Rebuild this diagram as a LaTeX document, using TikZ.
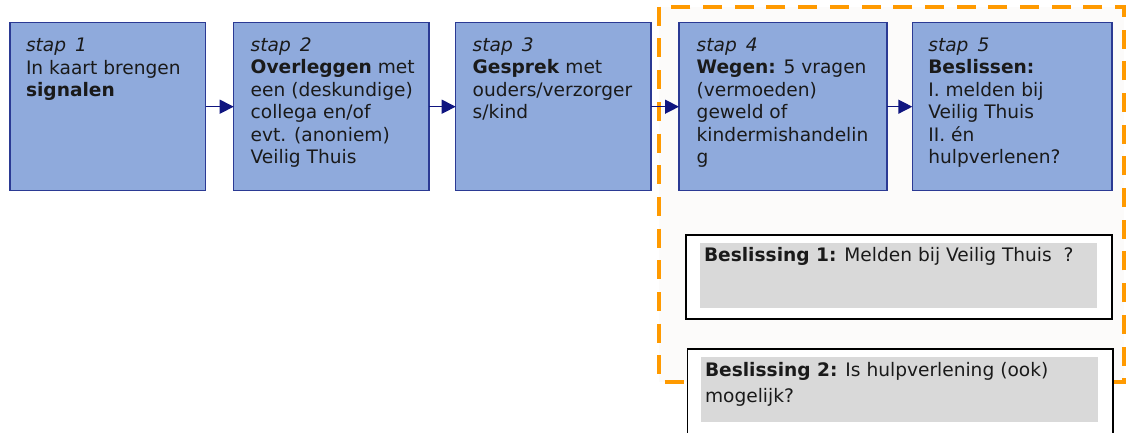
\documentclass[tikz,border=0pt]{standalone}
\usepackage{fontspec}
\setmainfont{DejaVu Sans}
\usetikzlibrary{arrows.meta,calc}
\definecolor{boxfill}{HTML}{8FAADC}
\definecolor{boxline}{HTML}{2B3A94}
\definecolor{arrowc}{HTML}{0F1580}
\definecolor{orangec}{HTML}{FF9A00}
\definecolor{zonefill}{HTML}{FCFBFA}
\definecolor{grayfill}{HTML}{D9D9D9}
\definecolor{txtc}{HTML}{1A1A1A}
\tikzset{
  stepbox/.style={draw=boxline, line width=1.3pt, fill=boxfill, rectangle, inner sep=0pt, outer sep=0pt, anchor=north west, minimum height=168pt},
  steptext/.style={anchor=base west, inner sep=0pt, outer sep=0pt, text=txtc},
  arr/.style={draw=arrowc, line width=1.4pt, -{Triangle[length=14pt,width=14pt]}},
  zone/.style={draw=orangec, line width=4pt, fill=zonefill, dash pattern=on 19pt off 12.7pt},
  decbox/.style={draw=black, line width=1.5pt, fill=white, rectangle, inner sep=0pt, outer sep=0pt, anchor=north west},
  decinner/.style={fill=grayfill, draw=none, rectangle, inner sep=0pt, outer sep=0pt, anchor=north west},
}
\newcommand{\blk}[2]{\parbox[t]{600pt}{\raggedright\fontsize{18.6}{#1}\selectfont #2}}
\begin{document}
\begin{tikzpicture}[x=1pt,y=-1pt]
\useasboundingbox (0,0) rectangle (1130,432);
\fill[white] (0,0) rectangle (1130,432);
% orange dashed zone
\path[zone] (659.3,6.7) rectangle (1124,381.7);
% step boxes
\node[stepbox, minimum width=195.7pt] (s1) at (10,22.7) {};
\node[stepbox, minimum width=195.3pt] (s2) at (233.7,22.7) {};
\node[stepbox, minimum width=195.3pt] (s3) at (455.7,22.7) {};
\node[stepbox, minimum width=208pt] (s4) at (679,22.7) {};
\node[stepbox, minimum width=199.7pt] (s5) at (912.3,22.7) {};
% texts
\node[steptext] (t1) at ($(s1.north west)+(16,28.5)$) {\blk{22.8}{\textit{stap\, 1}\\In kaart brengen\\\textbf{signalen}}};
\node[steptext] (t2) at ($(s2.north west)+(17,28.5)$) {\blk{22.5}{\textit{stap\, 2}\\\textbf{Overleggen} met\\een (deskundige)\\collega en/of\\evt. (anoniem)\\Veilig Thuis}};
\node[steptext] (t3) at ($(s3.north west)+(17,28.5)$) {\blk{22.5}{\textit{stap\, 3}\\\textbf{Gesprek} met\\ouders/verzorger\\s/kind}};
\node[steptext] (t4) at ($(s4.north west)+(17.7,28.5)$) {\blk{22.5}{\textit{stap\, 4}\\\textbf{Wegen:} 5 vragen\\(vermoeden)\\geweld of\\kindermishandelin\\g}};
\node[steptext] (t5) at ($(s5.north west)+(16,28.5)$) {\blk{22.5}{\textit{stap\, 5}\\\textbf{Beslissen:}\\I. melden bij\\Veilig Thuis\\II. én\\hulpverlenen?}};
% arrows
\draw[arr] (s1) -- (s2);
\draw[arr] (s2) -- (s3);
\draw[arr] (s3) -- (s4);
\draw[arr] (s4) -- (s5);
% decision boxes
\node[decbox, minimum width=426pt, minimum height=84pt] (b1) at (686,235) {};
\node[decinner, minimum width=397pt, minimum height=64.7pt] (b1i) at (700,243.3) {};
\node[steptext] (b1t) at (704,261.7) {\blk{22.5}{\textbf{Beslissing 1:} Melden bij Veilig Thuis\ \ ?}};
\node[decbox, minimum width=425.3pt, minimum height=100pt] (b2) at (687.7,349) {};
\node[decinner, minimum width=397pt, minimum height=65pt] (b2i) at (701,357) {};
\node[steptext] (b2t) at (705,376) {\blk{26.6}{\textbf{Beslissing 2:} Is hulpverlening (ook)\\mogelijk?}};
\end{tikzpicture}
\end{document}
